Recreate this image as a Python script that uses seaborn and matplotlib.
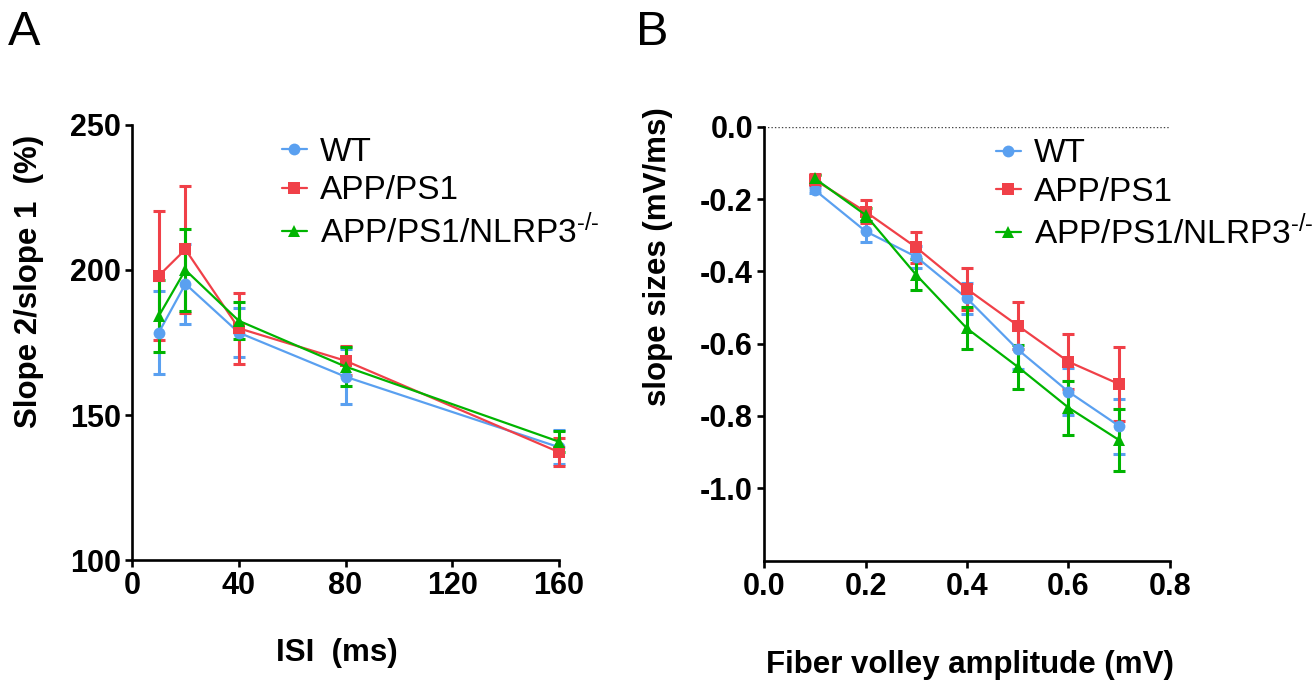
import matplotlib
matplotlib.use("Agg")
import matplotlib.pyplot as plt
from matplotlib.lines import Line2D
import numpy as np
import pandas as pd
import seaborn as sns

# ---------------- data ----------------
groups = ["WT", "APP/PS1", r"APP/PS1/NLRP3$^{\text{-/-}}$"]

isi = [10, 20, 40, 80, 160]
wt_ppf = [178.4, 195.2, 178.4, 163.2, 138.9]
wt_ppf_sem = [14.3, 13.7, 8.5, 9.5, 5.8]
app_ppf = [198.0, 207.1, 179.9, 168.7, 137.2]
app_ppf_sem = [22.3, 21.8, 12.2, 5.0, 4.7]
nlrp_ppf = [184.1, 200.0, 182.5, 166.7, 140.8]
nlrp_ppf_sem = [12.5, 14.2, 6.4, 6.7, 3.7]

fv = [0.1, 0.2, 0.3, 0.4, 0.5, 0.6, 0.7]
wt_io = [-0.175, -0.289, -0.360, -0.475, -0.616, -0.733, -0.828]
wt_io_sem = [0.008, 0.029, 0.030, 0.042, 0.055, 0.065, 0.076]
app_io = [-0.147, -0.235, -0.334, -0.449, -0.550, -0.650, -0.712]
app_io_sem = [0.015, 0.031, 0.044, 0.057, 0.065, 0.076, 0.102]
nlrp_io = [-0.143, -0.244, -0.410, -0.558, -0.664, -0.777, -0.867]
nlrp_io_sem = [0.010, 0.018, 0.043, 0.058, 0.061, 0.075, 0.085]

a_xticks = [0, 40, 80, 120, 160]
a_yticks = [100, 150, 200, 250]
b_xticks = [0.0, 0.2, 0.4, 0.6, 0.8]
b_yticks = [0.0, -0.2, -0.4, -0.6, -0.8, -1.0]

colors = dict(zip(groups, ["#5AA0F0", "#F04048", "#00B400"]))
markers = dict(zip(groups, ["o", "s", "^"]))

def long_df(x, series, sems):
    rows = []
    for g, ys, es in zip(groups, series, sems):
        for xi, yi, ei in zip(x, ys, es):
            rows.append({"x": xi, "y": yi, "sem": ei, "group": g})
    return pd.DataFrame(rows)

df_a = long_df(isi, [wt_ppf, app_ppf, nlrp_ppf], [wt_ppf_sem, app_ppf_sem, nlrp_ppf_sem])
df_b = long_df(fv, [wt_io, app_io, nlrp_io], [wt_io_sem, app_io_sem, nlrp_io_sem])

# ---------------- style ----------------
sns.set_style("ticks")
plt.rcParams["font.family"] = ["Liberation Sans", "DejaVu Sans"]
plt.rcParams["mathtext.fontset"] = "custom"
plt.rcParams["mathtext.rm"] = "Liberation Sans"
plt.rcParams["mathtext.it"] = "Liberation Sans"
plt.rcParams["mathtext.bf"] = "Liberation Sans:bold"
plt.rcParams["axes.unicode_minus"] = False
for k in ("text.color", "axes.labelcolor", "xtick.color", "ytick.color", "axes.edgecolor"):
    plt.rcParams[k] = "black"

fig = plt.figure(figsize=(13.15, 6.89), dpi=100)
ax_a = fig.add_axes([0.1004, 0.1872, 0.3247, 0.6314])
ax_b = fig.add_axes([0.5810, 0.1864, 0.3087, 0.6297])

TICK_FS = 22
LABEL_FS = 22.5
LEG_FS = 24

def draw(ax, df):
    for g in groups:
        sub = df[df["group"] == g]
        ax.errorbar(sub["x"], sub["y"], yerr=sub["sem"], fmt="none",
                    ecolor=colors[g], elinewidth=2.2, capsize=4, capthick=2.2,
                    zorder=2 + groups.index(g), clip_on=False)
    sns.lineplot(data=df, x="x", y="y", hue="group", style="group",
                 hue_order=groups, style_order=groups, palette=colors,
                 markers=markers, dashes=False, ax=ax, legend=False,
                 linewidth=1.6, markersize=8.5, markeredgewidth=0,
                 clip_on=False, zorder=5, sort=False)

draw(ax_a, df_a)
draw(ax_b, df_b)

for ax in (ax_a, ax_b):
    sns.despine(ax=ax)
    for s in ("left", "bottom"):
        ax.spines[s].set_linewidth(1.9)
        ax.spines[s].set_color("black")
    ax.tick_params(axis="both", direction="out", length=5, width=1.9,
                   labelsize=TICK_FS, colors="black", pad=3)

# Panel A
ax_a.set_xlim(0, 160)
ax_a.set_ylim(100, 250)
ax_a.set_xticks(a_xticks)
ax_a.set_yticks(a_yticks)
ax_a.set_xticklabels([str(t) for t in a_xticks], fontweight="bold", fontsize=TICK_FS)
ax_a.set_yticklabels([str(t) for t in a_yticks], fontweight="bold", fontsize=TICK_FS)
ax_a.set_xlabel("ISI  (ms)", fontsize=LABEL_FS, fontweight="bold")
ax_a.set_ylabel("Slope 2/slope 1  (%)", fontsize=LABEL_FS, fontweight="bold")
ax_a.xaxis.set_label_coords(0.48, -0.18)
ax_a.yaxis.set_label_coords(-0.205, 0.64)

# Panel B
ax_b.set_xlim(0, 0.8)
ax_b.set_ylim(-1.2, 0)
ax_b.set_xticks(b_xticks)
ax_b.set_yticks(b_yticks)
ax_b.set_xticklabels(["%.1f" % t for t in b_xticks], fontweight="bold", fontsize=TICK_FS)
ax_b.set_yticklabels(["%.1f" % abs(t) if t == 0 else "%.1f" % t for t in b_yticks],
                     fontweight="bold", fontsize=TICK_FS)
ax_b.axhline(0, color="#444444", linestyle=(0, (1, 1.5)), linewidth=1.0, zorder=1)
ax_b.set_xlabel("Fiber volley amplitude (mV)", fontsize=LABEL_FS, fontweight="bold")
ax_b.set_ylabel("slope sizes (mV/ms)", fontsize=LABEL_FS, fontweight="bold")
ax_b.xaxis.set_label_coords(0.507, -0.207)
ax_b.yaxis.set_label_coords(-0.225, 0.70)

# Legends
def add_legend(ax, anchor):
    handles = [Line2D([], [], color=colors[g], marker=markers[g], lw=1.6,
                      markersize=8.5, markeredgewidth=0) for g in groups]
    ax.legend(handles, groups, loc="upper left", bbox_to_anchor=anchor,
              frameon=False, fontsize=LEG_FS, handlelength=0.75,
              handletextpad=0.4, labelspacing=0.22, borderpad=0,
              borderaxespad=0)

add_legend(ax_a, (0.351, 0.972))
add_legend(ax_b, (0.571, 0.973))

# Panel letters
fig.text(0.006, 1 - 45 / 689, "A", fontsize=35, va="baseline", ha="left")
fig.text(0.4837, 1 - 45 / 689, "B", fontsize=35, va="baseline", ha="left")

fig.savefig("out.png", dpi=100)
